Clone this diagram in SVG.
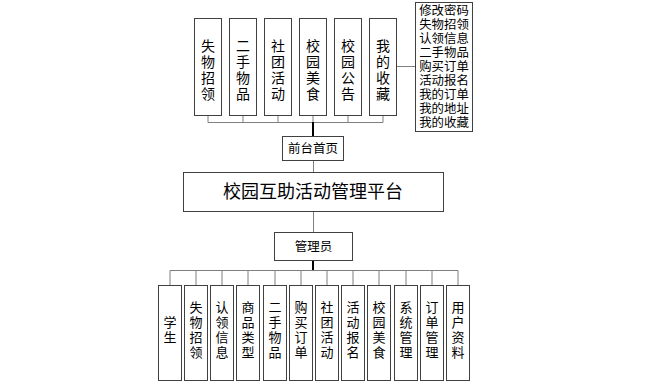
<svg xmlns="http://www.w3.org/2000/svg" width="648" height="388" viewBox="0 0 648 388">
<style>
  .box{fill:#fff;stroke:#404040;stroke-width:1}
  .t{font-family:"Liberation Sans","Noto Sans CJK SC",sans-serif;fill:#000;text-anchor:middle}
  .ln{fill:none;stroke:#7f7f7f;stroke-width:1}
  .trunk{fill:none;stroke:#000;stroke-width:2}
  .v14{font-size:14px}
  .v13{font-size:13px}
  .m{font-size:12.4px}
</style>
<rect width="648" height="388" fill="#fff"/>
<g id="connectors">
  <path class="ln" d="M208 115.5V122.5H383M243 115.5V122.5M278 115.5V122.5M313 115.5V122.5M348 115.5V122.5M383 115.5V122.5"/>
  <path class="ln" d="M396.5 66.5H415.5"/>
  <path class="trunk" d="M313 122V136.5"/>
  <path class="ln" d="M313.5 160.5V172.5M313.5 211.5V232.5"/>
  <path class="trunk" d="M313 260.5V271"/>
  <path class="ln" d="M170 285V270.5H458V285M196 270.5V285M222 270.5V285M248 270.5V285M275 270.5V285M301 270.5V285M327 270.5V285M353 270.5V285M379 270.5V285M406 270.5V285M432 270.5V285"/>
</g>
<g id="n-lost"><rect class="box" x="194.5" y="18.5" width="27" height="97"/><text class="t v14"><tspan x="208" y="51">失</tspan><tspan x="208" y="67">物</tspan><tspan x="208" y="83">招</tspan><tspan x="208" y="99">领</tspan></text></g>
<g id="n-second"><rect class="box" x="229.5" y="18.5" width="27" height="97"/><text class="t v14"><tspan x="243" y="51">二</tspan><tspan x="243" y="67">手</tspan><tspan x="243" y="83">物</tspan><tspan x="243" y="99">品</tspan></text></g>
<g id="n-club"><rect class="box" x="264.5" y="18.5" width="27" height="97"/><text class="t v14"><tspan x="278" y="51">社</tspan><tspan x="278" y="67">团</tspan><tspan x="278" y="83">活</tspan><tspan x="278" y="99">动</tspan></text></g>
<g id="n-food"><rect class="box" x="299.5" y="18.5" width="27" height="97"/><text class="t v14"><tspan x="313" y="51">校</tspan><tspan x="313" y="67">园</tspan><tspan x="313" y="83">美</tspan><tspan x="313" y="99">食</tspan></text></g>
<g id="n-notice"><rect class="box" x="334.5" y="18.5" width="27" height="97"/><text class="t v14"><tspan x="348" y="51">校</tspan><tspan x="348" y="67">园</tspan><tspan x="348" y="83">公</tspan><tspan x="348" y="99">告</tspan></text></g>
<g id="n-fav"><rect class="box" x="369.5" y="18.5" width="27" height="97"/><text class="t v14"><tspan x="383" y="51">我</tspan><tspan x="383" y="67">的</tspan><tspan x="383" y="83">收</tspan><tspan x="383" y="99">藏</tspan></text></g>
<g id="n-my"><rect class="box" x="415.5" y="2.5" width="57" height="129"/><text class="t m"><tspan x="444" y="15">修改密码</tspan><tspan x="444" y="29">失物招领</tspan><tspan x="444" y="43">认领信息</tspan><tspan x="444" y="57">二手物品</tspan><tspan x="444" y="71">购买订单</tspan><tspan x="444" y="85">活动报名</tspan><tspan x="444" y="99">我的订单</tspan><tspan x="444" y="113">我的地址</tspan><tspan x="444" y="127">我的收藏</tspan></text></g>
<g id="n-front"><rect class="box" x="282.5" y="136.5" width="61" height="24"/><text class="t" style="font-size:12.5px" x="313" y="153">前台首页</text></g>
<g id="n-title"><rect class="box" x="183.5" y="172.5" width="260" height="39"/><text class="t" style="font-size:18px" x="313" y="197.5">校园互助活动管理平台</text></g>
<g id="n-admin"><rect class="box" x="274.5" y="232.5" width="78" height="28"/><text class="t" style="font-size:12.5px" x="313.5" y="251">管理员</text></g>
<g id="n-student"><rect class="box" x="158.5" y="285.5" width="23" height="95"/><text class="t v13"><tspan x="170" y="327">学</tspan><tspan x="170" y="342">生</tspan></text></g>
<g id="n-a-lost"><rect class="box" x="184.5" y="285.5" width="23" height="95"/><text class="t v13"><tspan x="196" y="312">失</tspan><tspan x="196" y="327">物</tspan><tspan x="196" y="342">招</tspan><tspan x="196" y="357">领</tspan></text></g>
<g id="n-claim"><rect class="box" x="210.5" y="285.5" width="23" height="95"/><text class="t v13"><tspan x="222" y="312">认</tspan><tspan x="222" y="327">领</tspan><tspan x="222" y="342">信</tspan><tspan x="222" y="357">息</tspan></text></g>
<g id="n-cat"><rect class="box" x="236.5" y="285.5" width="23" height="95"/><text class="t v13"><tspan x="248" y="312">商</tspan><tspan x="248" y="327">品</tspan><tspan x="248" y="342">类</tspan><tspan x="248" y="357">型</tspan></text></g>
<g id="n-a-second"><rect class="box" x="263.5" y="285.5" width="23" height="95"/><text class="t v13"><tspan x="275" y="312">二</tspan><tspan x="275" y="327">手</tspan><tspan x="275" y="342">物</tspan><tspan x="275" y="357">品</tspan></text></g>
<g id="n-order"><rect class="box" x="289.5" y="285.5" width="23" height="95"/><text class="t v13"><tspan x="301" y="312">购</tspan><tspan x="301" y="327">买</tspan><tspan x="301" y="342">订</tspan><tspan x="301" y="357">单</tspan></text></g>
<g id="n-a-club"><rect class="box" x="315.5" y="285.5" width="23" height="95"/><text class="t v13"><tspan x="327" y="312">社</tspan><tspan x="327" y="327">团</tspan><tspan x="327" y="342">活</tspan><tspan x="327" y="357">动</tspan></text></g>
<g id="n-signup"><rect class="box" x="341.5" y="285.5" width="23" height="95"/><text class="t v13"><tspan x="353" y="312">活</tspan><tspan x="353" y="327">动</tspan><tspan x="353" y="342">报</tspan><tspan x="353" y="357">名</tspan></text></g>
<g id="n-a-food"><rect class="box" x="367.5" y="285.5" width="23" height="95"/><text class="t v13"><tspan x="379" y="312">校</tspan><tspan x="379" y="327">园</tspan><tspan x="379" y="342">美</tspan><tspan x="379" y="357">食</tspan></text></g>
<g id="n-sys"><rect class="box" x="394.5" y="285.5" width="23" height="95"/><text class="t v13"><tspan x="406" y="312">系</tspan><tspan x="406" y="327">统</tspan><tspan x="406" y="342">管</tspan><tspan x="406" y="357">理</tspan></text></g>
<g id="n-ordermgr"><rect class="box" x="420.5" y="285.5" width="23" height="95"/><text class="t v13"><tspan x="432" y="312">订</tspan><tspan x="432" y="327">单</tspan><tspan x="432" y="342">管</tspan><tspan x="432" y="357">理</tspan></text></g>
<g id="n-user"><rect class="box" x="446.5" y="285.5" width="23" height="95"/><text class="t v13"><tspan x="458" y="312">用</tspan><tspan x="458" y="327">户</tspan><tspan x="458" y="342">资</tspan><tspan x="458" y="357">料</tspan></text></g>
</svg>
